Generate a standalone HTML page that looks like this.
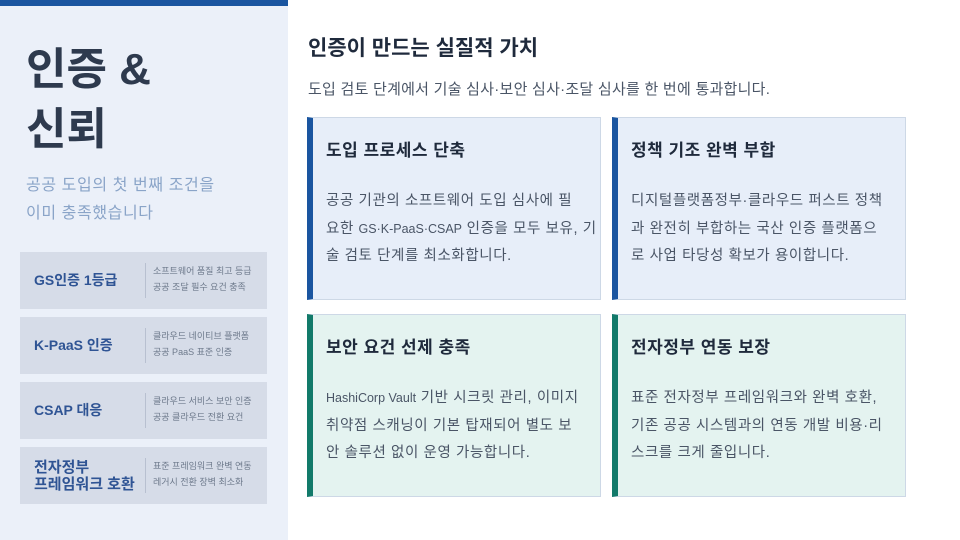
<!DOCTYPE html>
<html><head><meta charset="utf-8"><style>
*{margin:0;padding:0;box-sizing:border-box}
body{width:960px;height:540px;background:#fff;font-family:"Liberation Sans","Noto Sans CJK KR",sans-serif;position:relative;overflow:hidden}
.left{position:absolute;left:0;top:0;width:288px;height:540px;background:#ebf0f9}
.bar{position:absolute;left:0;top:0;width:288px;height:6px;background:#1a55a0}
.t{position:absolute;left:26px;color:#2e3a4e;font-size:44px;font-weight:bold;line-height:60px}
.sub{position:absolute;left:26px;top:172px;color:#8aa4c8;font-size:16px;line-height:28px;letter-spacing:0.6px}
.lc{position:absolute;left:20px;width:247px;height:57px;background:#d6dce8}
.lc .n{position:absolute;left:14px;top:0;height:57px;display:flex;align-items:center;color:#2f5494;font-weight:bold;font-size:14px;line-height:17px}
.lc .d{position:absolute;left:125px;top:11px;height:35px;border-left:1px solid #b8c0d0;padding-left:7px;color:#6e7a8c;font-size:9px;line-height:16px;white-space:nowrap}
.h{position:absolute;left:308px;top:32px;font-size:21px;font-weight:bold;color:#1f2a3c}
.hs{position:absolute;left:308px;top:78px;font-size:15px;color:#4a5566;letter-spacing:0.25px}
.card{position:absolute;width:294px;height:183px;border:1px solid #cdd8e6;border-left:6px solid #1a55a0;background:#e7eef9}
.card.g{border-left-color:#127a6a;background:#e4f3f0}
.card .ct{position:absolute;left:13px;top:18px;font-size:17px;font-weight:bold;color:#1f2a3c;letter-spacing:0.5px}
.card .cb{position:absolute;left:13px;top:70px;white-space:nowrap;font-size:14.5px;line-height:27.5px;color:#4a5566;letter-spacing:0.6px}
.card .cb .l{font-size:12.5px;letter-spacing:0}
</style></head><body>
<div class="left"></div><div class="bar"></div>
<div class="t" style="top:40px">인증 &amp;</div>
<div class="t" style="top:100px">신뢰</div>
<div class="sub">공공 도입의 첫 번째 조건을<br>이미 충족했습니다</div>
<div class="lc" style="top:252px"><div class="n">GS인증 1등급</div><div class="d">소프트웨어 품질 최고 등급<br>공공 조달 필수 요건 충족</div></div>
<div class="lc" style="top:317px"><div class="n">K-PaaS 인증</div><div class="d">클라우드 네이티브 플랫폼<br>공공 PaaS 표준 인증</div></div>
<div class="lc" style="top:382px"><div class="n">CSAP 대응</div><div class="d">클라우드 서비스 보안 인증<br>공공 클라우드 전환 요건</div></div>
<div class="lc" style="top:447px"><div class="n" style="font-size:15px">전자정부<br>프레임워크 호환</div><div class="d">표준 프레임워크 완벽 연동<br>레거시 전환 장벽 최소화</div></div>
<div class="h">인증이 만드는 실질적 가치</div>
<div class="hs">도입 검토 단계에서 기술 심사·보안 심사·조달 심사를 한 번에 통과합니다.</div>
<div class="card" style="left:307px;top:117px"><div class="ct">도입 프로세스 단축</div><div class="cb">공공 기관의 소프트웨어 도입 심사에 필<br>요한 <span class="l">GS·K-PaaS·CSAP</span> 인증을 모두 보유, 기<br>술 검토 단계를 최소화합니다.</div></div>
<div class="card" style="left:612px;top:117px"><div class="ct">정책 기조 완벽 부합</div><div class="cb">디지털플랫폼정부·클라우드 퍼스트 정책<br>과 완전히 부합하는 국산 인증 플랫폼으<br>로 사업 타당성 확보가 용이합니다.</div></div>
<div class="card g" style="left:307px;top:314px"><div class="ct">보안 요건 선제 충족</div><div class="cb"><span class="l">HashiCorp Vault</span> 기반 시크릿 관리, 이미지<br>취약점 스캐닝이 기본 탑재되어 별도 보<br>안 솔루션 없이 운영 가능합니다.</div></div>
<div class="card g" style="left:612px;top:314px"><div class="ct">전자정부 연동 보장</div><div class="cb">표준 전자정부 프레임워크와 완벽 호환,<br>기존 공공 시스템과의 연동 개발 비용·리<br>스크를 크게 줄입니다.</div></div>
</body></html>
